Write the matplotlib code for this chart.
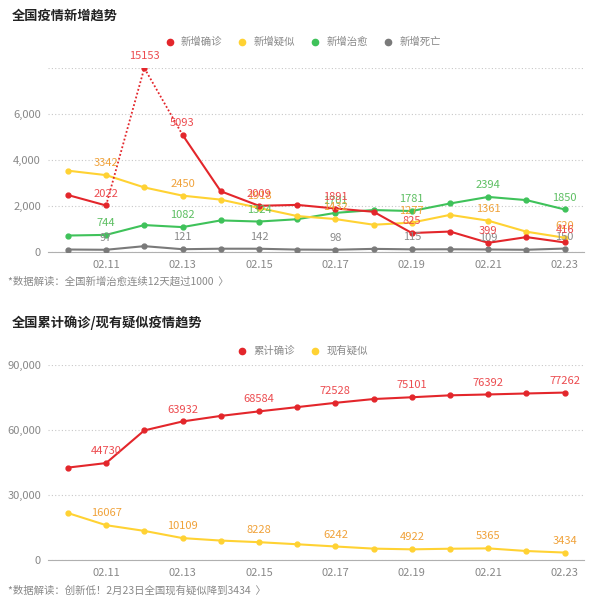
import numpy as np
import matplotlib.pyplot as plt
from matplotlib.lines import Line2D

plt.rcParams['font.family'] = ['Noto Sans CJK SC', 'DejaVu Sans']

dates = ['02.10', '02.11', '02.12', '02.13', '02.14', '02.15', '02.16',
         '02.17', '02.18', '02.19', '02.20', '02.21', '02.22', '02.23']

# top chart: daily new numbers
new_confirmed = [2478, 2022, 15153, 5093, 2641, 2009, 2048, 1891, 1749, 825, 889, 399, 648, 416]
new_suspected = [3536, 3342, 2807, 2450, 2277, 1918, 1563, 1432, 1185, 1277, 1614, 1361, 882, 620]
new_cured = [716, 744, 1171, 1082, 1373, 1324, 1425, 1701, 1824, 1781, 2109, 2394, 2256, 1850]
new_dead = [108, 97, 254, 121, 143, 142, 105, 98, 136, 115, 118, 109, 97, 150]

# bottom chart: totals
total_confirmed = [42638, 44730, 59804, 63932, 66492, 68584, 70548, 72528, 74280, 75101, 75993, 76392, 76846, 77262]
now_suspected = [21675, 16067, 13435, 10109, 8969, 8228, 7264, 6242, 5248, 4922, 5206, 5365, 4148, 3434]

RED = '#E3262B'
YELLOW = '#FFD233'
GREEN = '#3FC25A'
GRAY = '#7A7A7A'
LBL_RED = '#EC4B4F'
LBL_YEL = '#F0A23A'
LBL_GRN = '#5DBF62'
LBL_GRAY = '#8A8A8A'

x = np.arange(len(dates))
fig = plt.figure(figsize=(6, 5.99), dpi=100)


def style_axis(ax, ymax, step):
    ax.set_xlim(-0.52, 13.5)
    ax.set_ylim(0, ymax)
    ticks = np.arange(0, ymax + 1, step)
    ax.set_yticks(ticks)
    ax.set_yticklabels([f'{t:,}' for t in ticks[:-1]] + [''] if ymax == 8000
                       else [f'{t:,}' for t in ticks])
    ax.set_xticks(x[1::2])
    ax.set_xticklabels(dates[1::2])
    for s in ['top', 'right', 'left']:
        ax.spines[s].set_visible(False)
    ax.spines['bottom'].set_color('#B0B0B0')
    ax.tick_params(axis='both', length=0, labelsize=8, colors='#888888', pad=5)
    ax.tick_params(axis='x', pad=6)
    ax.grid(axis='y', linestyle=(0, (1, 2)), color='#C8C8C8', linewidth=0.8)
    ax.set_axisbelow(True)


def labels(ax, xs, ys, vals, color, idx):
    for i in idx:
        ax.annotate(str(vals[i]), (xs[i], ys[i]), xytext=(0, 5), textcoords='offset points',
                    ha='center', va='bottom', fontsize=8, color=color, zorder=10)


# ---- top chart
ax1 = fig.add_axes([0.08, 0.5793, 0.893, 0.3072])
YMAX = 8000
style_axis(ax1, YMAX, 2000)
conf_plot = np.minimum(new_confirmed, YMAX)
odd = list(range(1, 14, 2))

ax1.plot(x, new_dead, color=GRAY, lw=1.5, marker='o', ms=3.5, zorder=3)
ax1.plot(x, new_cured, color=GREEN, lw=1.5, marker='o', ms=3.5, zorder=3)
ax1.plot(x, new_suspected, color=YELLOW, lw=1.5, marker='o', ms=3.5, zorder=3)
ax1.plot(x[:2], conf_plot[:2], color=RED, lw=1.5, zorder=4)
ax1.plot(x[1:4], conf_plot[1:4], color=RED, lw=1.3, linestyle=(0, (1, 1.2)), zorder=4)
ax1.plot(x[3:], conf_plot[3:], color=RED, lw=1.5, zorder=4)
ax1.plot(x, conf_plot, color=RED, lw=0, marker='o', ms=3.5, zorder=5)

labels(ax1, x, new_dead, new_dead, LBL_GRAY, odd)
labels(ax1, x, new_cured, new_cured, LBL_GRN, odd)
labels(ax1, x, new_suspected, new_suspected, LBL_YEL, odd)
labels(ax1, x, conf_plot, new_confirmed, LBL_RED, [1, 2, 3, 5, 7, 9, 11, 13])

h1 = [Line2D([], [], color=c, marker='o', ls='none', ms=4.5) for c in (RED, YELLOW, GREEN, GRAY)]
fig.legend(h1, ['新增确诊', '新增疑似', '新增治愈', '新增死亡'], loc='center',
           bbox_to_anchor=(0.5, 1 - 42 / 599), ncol=4, frameon=False, fontsize=7.5,
           handletextpad=0.1, columnspacing=0.9, labelcolor='#888888')

fig.text(0.02, 1 - 16 / 599, '全国疫情新增趋势', fontsize=9.5, fontweight='bold',
         color='#222222', va='center')
fig.text(0.013, 1 - 282 / 599, '*数据解读：全国新增治愈连续12天超过1000  〉', fontsize=7.5,
         color='#888888', va='center')

# ---- bottom chart
ax2 = fig.add_axes([0.08, 0.0651, 0.893, 0.3256])
style_axis(ax2, 90000, 30000)
ax2.plot(x, now_suspected, color=YELLOW, lw=1.5, marker='o', ms=3.5, zorder=3)
ax2.plot(x, total_confirmed, color=RED, lw=1.5, marker='o', ms=3.5, zorder=4)
labels(ax2, x, now_suspected, now_suspected, LBL_YEL, odd)
labels(ax2, x, total_confirmed, total_confirmed, LBL_RED, odd)

h2 = [Line2D([], [], color=c, marker='o', ls='none', ms=4.5) for c in (RED, YELLOW)]
fig.legend(h2, ['累计确诊', '现有疑似'], loc='center',
           bbox_to_anchor=(0.5, 1 - 351 / 599), ncol=2, frameon=False, fontsize=7.5,
           handletextpad=0.1, columnspacing=0.9, labelcolor='#888888')

fig.text(0.02, 1 - 323 / 599, '全国累计确诊/现有疑似疫情趋势', fontsize=9.5, fontweight='bold',
         color='#222222', va='center')
fig.text(0.013, 1 - 590 / 599, '*数据解读：创新低！2月23日全国现有疑似降到3434  〉', fontsize=7.5,
         color='#888888', va='center')

fig.savefig('out.png', dpi=100, facecolor='white')
